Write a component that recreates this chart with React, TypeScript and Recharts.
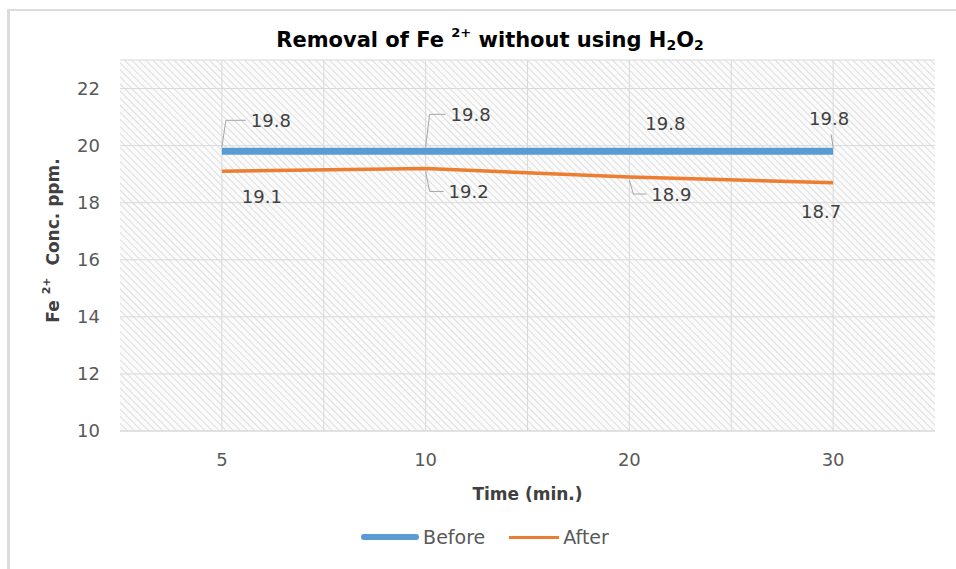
import React from 'react';
import { LineChart, Line, XAxis, YAxis, CartesianGrid, Legend, LabelList, Label } from 'recharts';

const times = ['5', '10', '20', '30'];
const beforeValues = [19.8, 19.8, 19.8, 19.8];
const afterValues = [19.1, 19.2, 18.9, 18.7];
const yTicks = [10, 12, 14, 16, 18, 20, 22];

const data = times.map((t, i) => ({ time: t, Before: beforeValues[i], After: afterValues[i] }));

// data-label placement (style only): offset from the point to the label centre
const beforeLabelPos = [
  { dx: 49, dy: -31, leader: true },
  { dx: 45, dy: -37, leader: true },
  { dx: 36, dy: -28, leader: false },
  { dx: -4, dy: -33, leader: true },
];
const afterLabelPos = [
  { dx: 40, dy: 25, leader: false },
  { dx: 43, dy: 23, leader: true },
  { dx: 42, dy: 17, leader: true },
  { dx: -12, dy: 29, leader: false },
];

const BLUE = '#5B9BD5';
const ORANGE = '#ED7D31';
const NUM_FONT = '"DejaVu Sans", sans-serif';
const TXT_FONT = '"DejaVu Sans", sans-serif';

const makeLabel = (pos: { dx: number; dy: number; leader: boolean }[]) => (props: any) => {
  const { x, y, value, index } = props;
  const p = pos[index];
  if (!p || x == null || y == null) return null;
  const cx = x + p.dx;
  const cy = y + p.dy;
  const half = 21;
  let leader: React.ReactNode = null;
  if (p.leader) {
    if (p.dx > 20) {
      const sy = p.dy < 0 ? y - 4 : y + 3;
      leader = (
        <polyline
          points={`${x},${sy} ${x + 4},${cy} ${cx - half - 4},${cy}`}
          fill="none"
          stroke="#a6a6a6"
          strokeWidth={1}
        />
      );
    } else {
      leader = <line x1={x} y1={y - 4} x2={x - 2} y2={cy + 16} stroke="#a6a6a6" strokeWidth={1} />;
    }
  }
  return (
    <g>
      {leader}
      <text
        x={cx}
        y={cy}
        textAnchor="middle"
        dominantBaseline="central"
        fontFamily={NUM_FONT}
        fontSize={18}
        fill="#404040"
      >
        {value}
      </text>
    </g>
  );
};

const LegendContent = () => (
  <div
    style={{
      display: 'flex',
      justifyContent: 'center',
      alignItems: 'center',
      fontFamily: TXT_FONT,
      fontSize: 19,
      color: '#595959',
      paddingLeft: 14,
    }}
  >
    <span style={{ display: 'inline-block', width: 58, height: 6, background: BLUE, marginRight: 4, borderRadius: 3 }} />
    <span>Before</span>
    <span style={{ display: 'inline-block', width: 50, height: 3, background: ORANGE, marginLeft: 24, marginRight: 4 }} />
    <span>After</span>
  </div>
);

export default function App() {
  return (
    <div style={{ position: 'absolute', left: 0, top: 0, width: 956, height: 569, overflow: 'hidden', background: '#fff' }}>
      <div
        style={{
          position: 'absolute',
          left: 7,
          top: 9,
          width: 1000,
          height: 600,
          borderLeft: '3px solid #dcdcdc',
          borderTop: '2px solid #dcdcdc',
        }}
      />
      <LineChart
        width={956}
        height={569}
        data={data}
        margin={{ top: 60, right: 21, bottom: 98, left: 50 }}
        style={{ position: 'absolute', left: 0, top: 0 }}
      >
        <defs>
          <pattern id="hatch" width="5" height="5" patternUnits="userSpaceOnUse" patternTransform="rotate(-45)">
            <rect width="5" height="5" fill="#fbfbfb" />
            <line x1="0" y1="0" x2="0" y2="5" stroke="#dedede" strokeWidth="2" />
          </pattern>
        </defs>
        <text x={490} y={40} textAnchor="middle" dominantBaseline="central" fontFamily={TXT_FONT} fontWeight="bold" fontSize={21} fill="#000">
          <tspan>Removal of Fe </tspan>
          <tspan fontSize={13} dy={-8}>2+</tspan>
          <tspan dy={8}> without using H</tspan>
          <tspan fontSize={14} dy={5}>2</tspan>
          <tspan dy={-5}>O</tspan>
          <tspan fontSize={14} dy={5}>2</tspan>
        </text>
        <CartesianGrid
          fill="url(#hatch)"
          fillOpacity={1}
          stroke="#d9d9d9"
          strokeWidth={1}
          verticalCoordinatesGenerator={(args: any) => {
            const off = args.offset;
            return [1, 2, 3, 4, 5, 6, 7].map((i) => off.left + (off.width * i) / 8);
          }}
        />
        <XAxis
          dataKey="time"
          type="category"
          scale="band"
          height={40}
          tickLine={false}
          axisLine={{ stroke: '#d9d9d9' }}
          tickSize={0}
          tickMargin={22}
          tick={{ fontFamily: NUM_FONT, fontSize: 18, fill: '#595959' }}
        >
          <Label
            content={(p: any) => {
              const vb = p.viewBox;
              return (
                <text x={vb.x + vb.width / 2} y={vb.y + 63} textAnchor="middle" dominantBaseline="central" fontFamily={TXT_FONT} fontWeight="bold" fontSize={17} fill="#404040">
                  Time (min.)
                </text>
              );
            }}
          />
        </XAxis>
        <YAxis
          domain={[10, 23]}
          ticks={yTicks}
          width={70}
          tickLine={false}
          axisLine={false}
          tickSize={0}
          tickMargin={20}
          tick={{ fontFamily: NUM_FONT, fontSize: 18, fill: '#595959' }}
        >
          <Label
            content={(p: any) => {
              const vb = p.viewBox;
              const cx = 53;
              const cy = vb.y + vb.height / 2 - 5;
              return (
                <text x={cx} y={cy} transform={`rotate(-90 ${cx} ${cy})`} textAnchor="middle" dominantBaseline="central" fontFamily={TXT_FONT} fontWeight="bold" fontSize={17} fill="#404040">
                  <tspan>Fe </tspan>
                  <tspan fontSize={11} dy={-7}>2+</tspan>
                  <tspan dy={7}>{'\u00a0\u00a0Conc. ppm.'}</tspan>
                </text>
              );
            }}
          />
        </YAxis>
        <Legend
          layout="horizontal"
          verticalAlign="middle"
          align="center"
          content={LegendContent}
          wrapperStyle={{ top: 526, left: 0, width: 956 }}
        />
        <Line dataKey="Before" stroke={BLUE} strokeWidth={7} dot={false} activeDot={false} isAnimationActive={false}>
          <LabelList dataKey="Before" content={makeLabel(beforeLabelPos)} />
        </Line>
        <Line dataKey="After" stroke={ORANGE} strokeWidth={3.5} dot={false} activeDot={false} isAnimationActive={false}>
          <LabelList dataKey="After" content={makeLabel(afterLabelPos)} />
        </Line>
      </LineChart>
    </div>
  );
}
